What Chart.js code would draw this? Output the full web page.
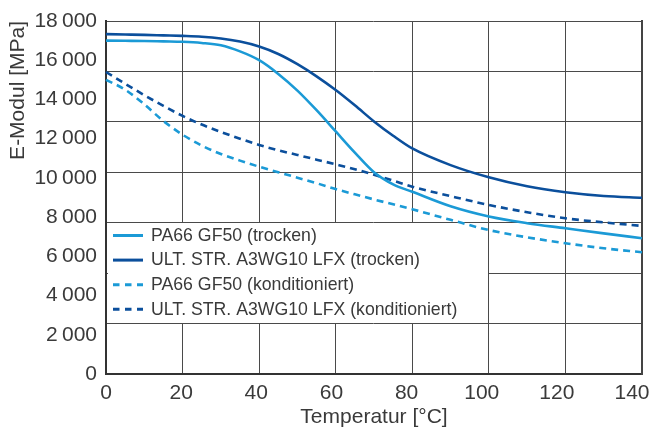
<!DOCTYPE html>
<html>
<head>
<meta charset="utf-8">
<script src="https://cdn.jsdelivr.net/npm/chart.js@4/dist/chart.umd.min.js"></script>
<style>
  html, body { margin: 0; padding: 0; background: #fff; }
  canvas { display: block; }
</style>
</head>
<body>
<canvas id="c" width="656" height="430"></canvas>
<script>
// ---- data ----
const temps = [0,5,10,15,20,25,30,35,40,45,50,55,60,65,70,75,80,90,100,110,120,130,140];
const pa66Dry  = [17000,16990,16980,16960,16940,16880,16760,16450,16000,15300,14450,13450,12370,11290,10290,9670,9290,8550,8030,7690,7430,7170,6920];
const ultDry   = [17330,17310,17290,17265,17240,17200,17110,16950,16700,16320,15800,15180,14480,13700,12880,12150,11500,10650,10030,9570,9270,9080,8990];
const pa66Cond = [15000,14500,13750,12900,12200,11650,11220,10880,10570,10290,10010,9730,9430,9160,8900,8650,8400,7860,7340,6970,6670,6410,6210];
const ultCond  = [15400,14800,14220,13670,13160,12720,12340,12000,11680,11410,11170,10930,10690,10440,10160,9860,9550,9070,8620,8250,7940,7730,7550];
const seriesLabels = ['PA66 GF50 (trocken)','ULT. STR. A3WG10 LFX (trocken)','PA66 GF50 (konditioniert)','ULT. STR. A3WG10 LFX (konditioniert)'];
const xTicks = [0,20,40,60,80,100,120,140];
const yTicks = [0,2000,4000,6000,8000,10000,12000,14000,16000,18000];
const xTitle = 'Temperatur [°C]';
const yTitle = 'E-Modul [MPa]';

// ---- styling ----
const LIGHT = '#1b9ad6';
const DARK = '#0b4f9c';
const TEXT = '#3a3a3a';
const FONT = "'Liberation Sans', Arial, sans-serif";
const DASH = [7, 5];

const pts = vals => temps.map((t, i) => ({x: t, y: vals[i]}));
const ds = (label, vals, color, dashed) => ({
  label, data: pts(vals), borderColor: color, backgroundColor: color,
  borderWidth: 2.6, borderDash: dashed ? DASH : [], pointRadius: 0,
  cubicInterpolationMode: 'monotone', fill: false, clip: false
});

const legendBox = {
  id: 'legendBox',
  beforeDatasetsDraw(chart) {
    const {ctx} = chart;
    const xs = chart.scales.x, yg = chart.scales.yGrid;
    const al = p => Math.round(p - 0.5) + 0.5;
    const L = al(xs.getPixelForValue(0));
    const R = al(xs.getPixelForValue(xTicks[5]));
    const T = al(yg.getPixelForValue(yg.ticks[3].value));
    const B = al(yg.getPixelForValue(yg.ticks[1].value));
    ctx.save();
    ctx.fillStyle = '#fff';
    ctx.fillRect(L + 1.5, T + 0.5, R - L - 2, B - T - 1);
    ctx.font = "17.7px " + FONT;
    ctx.fillStyle = TEXT;
    ctx.textBaseline = 'middle';
    ctx.textAlign = 'left';
    chart.data.datasets.forEach((d, i) => {
      const cy = T + 13 + i * 24.6;
      ctx.beginPath();
      ctx.strokeStyle = d.borderColor;
      ctx.lineWidth = 3;
      ctx.setLineDash(d.borderDash.length ? [6.5, 5.5] : []);
      ctx.moveTo(L + 6.5, cy);
      ctx.lineTo(L + 36.5, cy);
      ctx.stroke();
      ctx.setLineDash([]);
      ctx.fillText(d.label, L + 44.5, cy + 0.5);
    });
    ctx.restore();
  }
};

new Chart(document.getElementById('c'), {
  type: 'line',
  data: {
    datasets: [
      ds(seriesLabels[0], pa66Dry, LIGHT, false),
      ds(seriesLabels[1], ultDry, DARK, false),
      ds(seriesLabels[2], pa66Cond, LIGHT, true),
      ds(seriesLabels[3], ultCond, DARK, true)
    ]
  },
  options: {
    responsive: false,
    animation: false,
    devicePixelRatio: 1,
    layout: { padding: { top: 21, right: 14, left: 0, bottom: 0 } },
    plugins: { legend: { display: false }, tooltip: { enabled: false } },
    scales: {
      x: {
        type: 'linear', position: 'bottom', min: 0, max: 140, weight: 1,
        afterBuildTicks: s => { s.ticks = xTicks.map(v => ({value: v})); },
        ticks: { display: false },
        grid: { display: true, color: '#4a4a4a', lineWidth: 1, drawTicks: false },
        border: { display: true, color: '#333', width: 2 },
        afterFit: s => { s.height = 0; s.paddingLeft = 0; s.paddingRight = 0; }
      },
      xl: {
        type: 'linear', position: 'bottom', min: 0, max: 142.66, weight: 2,
        afterBuildTicks: s => { s.ticks = xTicks.map(v => ({value: v})); },
        ticks: { display: true, color: TEXT, font: { family: FONT, size: 21 }, padding: 7, maxRotation: 0, autoSkip: false },
        grid: { display: false, drawTicks: false },
        border: { display: false },
        title: { display: true, text: xTitle, color: TEXT, font: { family: FONT, size: 21, lineHeight: 1.2 }, padding: { top: 0, bottom: 0 } },
        afterFit: s => { s.height = 56; s.paddingLeft = 0; s.paddingRight = 0; }
      },
      y: {
        type: 'linear', position: 'left', min: 0, max: 18000,
        afterBuildTicks: s => { s.ticks = yTicks.map(v => ({value: v})); },
        ticks: {
          color: TEXT, font: { family: FONT, size: 21 }, padding: 9,
          callback: v => String(v).replace(/\B(?=(\d{3})+(?!\d))/g, '\u2009')
        },
        grid: { display: false, drawTicks: false },
        border: { display: true, color: '#333', width: 2 },
        title: { display: true, text: yTitle, align: 'end', color: TEXT, font: { family: FONT, size: 21, lineHeight: 1.2 }, padding: { top: 6, bottom: 0 } },
        afterFit: s => { s.width = 106; s.paddingTop = 0; s.paddingBottom = 0; }
      },
      yGrid: {
        type: 'linear', position: 'right', min: 0, max: 18000,
        afterBuildTicks: s => { s.ticks = [0,1,2,3,4,5,6,7].map(i => ({value: s.max * i / 7})); },
        ticks: { display: false },
        grid: { display: true, color: '#4a4a4a', lineWidth: 1, drawTicks: false },
        border: { display: true, color: '#444', width: 2 },
        afterFit: s => { s.width = 0; s.paddingTop = 0; s.paddingBottom = 0; }
      }
    }
  },
  plugins: [legendBox]
});
</script>
</body>
</html>
